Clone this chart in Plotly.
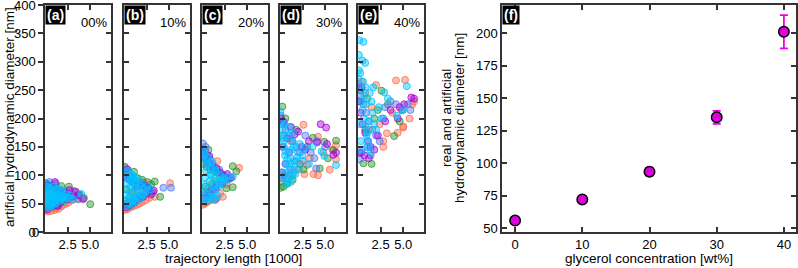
import plotly.graph_objects as go

W, H = 798, 268

# ---------------- data ----------------
PANEL_LABELS = ["(a)", "(b)", "(c)", "(d)", "(e)"]
PANEL_PCT = ["00%", "10%", "20%", "30%", "40%"]
COLORS = [(250, 110, 80), (40, 150, 40), (80, 120, 240), (170, 0, 220), (0, 195, 255)]
Y_TICKS = [0, 50, 100, 150, 200, 250, 300, 350, 400]
X_TICKS = [2.5, 5.0]

# panel a (00%)
a_salmon_x = [0.1,0.3,0.5,0.7,0.9,1.1,1.3,1.5,1.8,2.0,2.3,2.6,3.0,3.2,0.2,0.6,1.0,1.4,0.4,2.8,3.6,0.8]
a_salmon_y = [38,36,40,37,42,39,44,41,45,48,50,52,56,60,55,50,47,55,70,62,58,78]
a_green_x = [0.2,0.5,0.8,1.2,1.5,1.8,2.2,2.65,3.2,5.0,0.3,1.0,1.6,2.4,3.8,0.6,1.3,2.0,4.3]
a_green_y = [84,80,82,78,75,81,70,80,72,49,60,65,58,62,66,50,48,55,60]
a_blue_x = [0.1,0.4,0.7,1.0,1.3,1.6,2.0,2.4,2.8,0.2,0.9,1.5,2.1,3.3,3.7,0.5,1.2]
a_blue_y = [75,70,66,62,58,55,60,65,68,45,50,48,72,64,58,88,85]
a_purple_x = [0.1,0.3,0.6,0.9,1.2,1.5,1.9,2.3,2.7,3.0,3.4,4.2,0.4,0.8,1.4,1.7,2.5,3.7,0.2,1.1]
a_purple_y = [86,82,78,76,72,70,68,66,74,62,71,58,42,45,46,52,57,65,40,88]
a_cyan_x = [0.05,0.1,0.2,0.3,0.4,0.5,0.6,0.7,0.8,0.9,1.0,1.1,1.2,1.3,1.4,1.5,1.7,1.9,2.1,2.3,2.5,2.8,3.1,4.0,
            0.15,0.35,0.55,0.75,0.95,1.15,1.35,1.6,1.8,2.0,2.2,0.25,0.45,0.65,0.85]
a_cyan_y = [50,60,70,55,65,75,48,58,68,52,62,72,56,66,60,64,58,70,62,66,60,64,58,67,
            80,45,78,46,80,50,76,54,74,60,55,85,42,60,64]

# panel b (10%)
b_salmon_x = [0.1,0.3,0.5,0.8,1.1,1.4,1.7,2.0,2.4,2.8,3.4,5.1,0.2,0.6,1.0,1.5,3.0,2.2,0.4]
b_salmon_y = [39,40,42,44,46,48,50,53,56,60,62,86,55,60,70,78,70,88,95]
b_green_x = [0.1,0.4,1.1,0.7,1.5,2.0,2.6,3.4,4.0,3.0,0.3,0.9,1.8,2.3,0.5]
b_green_y = [115,108,106,98,95,92,88,89,62,84,75,70,65,80,50]
b_blue_x = [0.1,0.3,0.6,0.9,1.2,1.6,2.0,2.4,2.8,4.36,5.2,0.2,0.8,1.4,1.9,0.5,3.2]
b_blue_y = [112,105,100,95,90,86,82,78,74,78,78,50,55,60,65,45,70]
b_purple_x = [0.1,0.3,0.6,0.9,1.2,1.5,1.9,2.3,2.7,3.3,0.2,0.7,1.1,1.6,2.1,0.4,2.5,3.0]
b_purple_y = [102,96,92,88,84,80,86,82,78,73,44,48,52,58,62,110,68,66]
b_cyan_x = [0.05,0.15,0.25,0.35,0.45,0.55,0.65,0.75,0.85,0.95,1.05,1.15,1.25,1.35,1.45,1.6,1.8,2.0,2.2,2.4,2.6,2.9,
            0.1,0.3,0.5,0.7,0.9,1.1,1.3,1.5,1.7,1.9,2.1,0.2,0.4,0.6,0.8,1.0,1.2]
b_cyan_y = [55,65,75,85,95,60,70,80,90,100,58,68,78,88,62,72,82,66,76,70,80,75,
            105,98,52,92,48,96,54,94,58,86,64,45,108,50,102,60,84]

# panel c (20%)
c_salmon_x = [0.1,0.3,0.5,0.8,1.1,1.4,1.7,2.3,4.1,1.7,0.2,0.6,1.0,2.0,2.7,0.4]
c_salmon_y = [48,50,52,55,58,56,60,62,113,125,65,70,75,68,84,140]
c_green_x = [0.2,0.5,0.9,1.3,1.8,2.3,2.7,3.4,3.4,3.8,2.9,0.4,1.1,1.6,0.7]
c_green_y = [120,115,110,108,104,100,77,116,79,107,95,80,85,90,145]
c_blue_x = [0.1,0.3,0.6,0.9,1.2,1.5,1.9,2.4,2.8,0.2,0.7,1.2,1.6,2.1,3.1,0.4]
c_blue_y = [156,145,135,128,120,58,110,100,92,70,65,75,82,88,94,150]
c_purple_x = [0.1,0.4,0.8,0.8,1.2,1.6,2.0,2.4,2.8,3.2,0.3,0.7,1.1,1.5,2.2,0.5]
c_purple_y = [140,130,134,120,115,112,105,98,102,96,60,68,72,78,85,125]
c_cyan_x = [0.05,0.15,0.25,0.35,0.45,0.55,0.65,0.75,0.85,0.95,1.05,1.15,1.25,1.35,1.45,1.6,1.8,2.0,2.2,2.4,2.6,2.9,3.4,
            0.1,0.3,0.5,0.7,0.9,1.1,1.3,1.5,1.7,1.9,2.1,0.2,0.4,0.6,0.8,1.0]
c_cyan_y = [60,72,84,96,108,120,66,78,90,102,114,70,82,94,106,76,88,100,86,96,92,98,97,
            130,138,126,118,62,124,58,110,64,80,90,145,54,132,56,100]

# panel d (30%)
d_salmon_x = [2.6,4.2,3.3,2.7,3.7,4.2,5.5,6.2,6.2,0.2,0.6,1.0,1.5,2.0,3.0,4.8,5.8,0.4,1.2]
d_salmon_y = [189,168,130,102,102,100,110,153,128,90,95,100,105,110,118,140,145,170,160]
d_green_x = [0.25,0.4,3.63,4.9,6.2,5.9,4.4,0.1,0.8,1.4,2.2,3.0,5.3,0.6,1.8,2.6]
d_green_y = [221,80,166,159,161,144,112,78,85,92,120,150,130,200,180,110]
d_blue_x = [0.1,0.3,0.6,1.0,1.4,1.8,2.2,2.8,4.0,4.1,3.4,2.5,0.5,1.2,5.0,3.8,0.2,1.6]
d_blue_y = [205,190,180,170,160,150,140,170,112,160,140,125,100,110,150,130,95,125]
d_purple_x = [0.1,0.4,1.2,2.0,4.5,5.1,5.2,5.9,4.1,3.2,0.3,0.8,1.6,2.4,0.6,1.0,2.8,0.2,6.2]
d_purple_y = [200,194,185,177,190,184,155,136,158,160,150,165,172,150,120,140,145,105,140]
d_cyan_x = [0.05,0.15,0.25,0.35,0.45,0.55,0.65,0.75,0.85,0.95,1.05,1.15,1.25,1.35,1.45,1.6,1.8,2.0,2.2,2.5,2.8,3.2,4.9,6.2,
            0.1,0.3,0.5,0.7,0.9,1.1,1.3,1.5,1.7,1.9,2.1,0.2,0.4,0.6,0.8,1.0,1.2,1.4,3.6,4.6]
d_cyan_y = [212,195,180,165,150,135,120,105,90,100,115,130,145,160,175,110,125,140,155,135,148,120,134,118,
            95,105,190,85,170,98,120,150,102,132,112,170,160,142,128,185,88,100,150,142]

# panel e (40%)
e_salmon_x = [0.4,2.0,4.2,5.2,3.2,5.0,5.7,2.8,2.8,5.0,0.2,0.8,1.5,3.8,4.8,6.0,1.2,2.4,4.4,6.2]
e_salmon_y = [265,259,267,268,174,186,200,150,160,184,230,245,220,210,215,225,180,190,175,230]
e_green_x = [0.6,1.5,2.6,4.0,0.3,1.0,1.8,3.3,0.8,2.2,4.6]
e_green_y = [121,120,249,169,250,235,200,225,180,215,195]
e_blue_x = [0.1,0.3,0.6,0.9,1.2,1.6,2.0,2.4,3.0,3.6,4.2,4.9,5.5,0.4,1.0,1.4,2.8,0.2,5.8]
e_blue_y = [260,240,225,210,195,180,170,160,220,230,225,215,225,140,150,135,200,128,215]
e_purple_x = [0.1,0.3,0.5,0.8,1.1,1.4,1.8,4.6,5.9,6.2,3.6,4.4,0.2,0.7,1.2,2.2,3.0,0.4,5.1]
e_purple_y = [230,210,190,175,160,150,145,220,237,235,215,200,140,135,130,170,195,255,225]
e_cyan_x = [0.15,0.6,0.1,0.5,0.8,0.1,1.7,5.4,2.9,0.05,0.2,0.35,0.5,0.65,0.8,0.95,1.1,1.25,1.4,1.6,1.8,2.0,2.3,2.6,3.3,4.3,5.0,
            0.3,0.45,0.7,0.9,1.2,1.5,0.25,0.55,0.85,1.0,1.3,0.15]
e_cyan_y = [338,335,312,302,298,285,255,257,246,270,250,230,215,200,185,170,160,150,140,210,190,180,220,200,235,205,215,
            160,145,240,225,195,230,280,265,255,175,245,190]

# panel f
glycerol = [0, 10, 20, 30, 40]
diameter = [55.7, 72, 93.4, 135.3, 201.2]
diameter_err = [1.0, 2.0, 3.0, 5.0, 12.8]

PANELS = [
    [(a_salmon_x, a_salmon_y), (a_green_x, a_green_y), (a_blue_x, a_blue_y), (a_purple_x, a_purple_y), (a_cyan_x, a_cyan_y)],
    [(b_salmon_x, b_salmon_y), (b_green_x, b_green_y), (b_blue_x, b_blue_y), (b_purple_x, b_purple_y), (b_cyan_x, b_cyan_y)],
    [(c_salmon_x, c_salmon_y), (c_green_x, c_green_y), (c_blue_x, c_blue_y), (c_purple_x, c_purple_y), (c_cyan_x, c_cyan_y)],
    [(d_salmon_x, d_salmon_y), (d_green_x, d_green_y), (d_blue_x, d_blue_y), (d_purple_x, d_purple_y), (d_cyan_x, d_cyan_y)],
    [(e_salmon_x, e_salmon_y), (e_green_x, e_green_y), (e_blue_x, e_blue_y), (e_purple_x, e_purple_y), (e_cyan_x, e_cyan_y)],
]

# ---------------- layout helpers ----------------
def px(x):
    return x / W

def py(y):
    return 1 - y / H

FONT = "Liberation Sans, Arial, sans-serif"
AXC = "#333333"
PLOT_TOP, PLOT_BOT = 5, 232
LEFTS = [45, 124, 202, 280, 358]
PW = 66
TFS = 13.5  # axis title font size
Y_RANGE = [0, 400]

fig = go.Figure()
layout = dict(
    width=W, height=H, autosize=False,
    margin=dict(l=0, r=0, t=0, b=0, pad=0, autoexpand=False),
    paper_bgcolor="white", plot_bgcolor="white", showlegend=False,
    font=dict(family=FONT, size=13, color="black"),
)
annotations = []

for i, series in enumerate(PANELS):
    n = i + 1
    xa = "x" if n == 1 else f"x{n}"
    ya = "y" if n == 1 else f"y{n}"
    for (xs, ys), (r, g, b) in zip(series, COLORS):
        fig.add_trace(go.Scatter(
            x=xs, y=ys, mode="markers", xaxis=xa, yaxis=ya, hoverinfo="skip",
            marker=dict(size=7, color=f"rgba({r},{g},{b},0.45)",
                        line=dict(color=f"rgba({r},{g},{b},0.75)", width=1)),
        ))
    key_x = "xaxis" if n == 1 else f"xaxis{n}"
    key_y = "yaxis" if n == 1 else f"yaxis{n}"
    layout[key_x] = dict(
        domain=[px(LEFTS[i]), px(LEFTS[i] + PW)], anchor=ya, range=[0, 7.3],
        tickvals=X_TICKS, ticktext=[f"{v:.1f}" for v in X_TICKS], ticks="inside", ticklen=5, tickwidth=1.5,
        tickcolor=AXC, showline=True, linecolor=AXC, linewidth=1.5, mirror="ticks",
        showgrid=False, zeroline=False, tickfont=dict(size=13, family=FONT),
        ticklabeloverflow="allow", automargin=False,
    )
    layout[key_y] = dict(
        domain=[py(PLOT_BOT), py(PLOT_TOP)], anchor=xa, range=Y_RANGE,
        tickvals=Y_TICKS, ticks="outside" if n == 1 else "inside",
        ticklen=5, tickwidth=1.5, tickcolor=AXC, showline=True, linecolor=AXC, linewidth=1.5,
        mirror=True if n == 1 else "ticks", showgrid=False, zeroline=False,
        showticklabels=(n == 1), tickfont=dict(size=13, family=FONT),
        ticklabeloverflow="allow", automargin=False,
    )
    # panel tag
    annotations.append(dict(
        xref="paper", yref="paper", x=px(LEFTS[i]), y=py(PLOT_TOP), xanchor="left", yanchor="top",
        text=f"<b>{PANEL_LABELS[i]}</b>", showarrow=False, bgcolor="black", borderpad=1,
        font=dict(color="white", size=14, family=FONT),
    ))
    annotations.append(dict(
        xref="paper", yref="paper", x=px(LEFTS[i] + PW - 2), y=py(22), xanchor="right", yanchor="middle",
        text=PANEL_PCT[i], showarrow=False, font=dict(color="black", size=13, family=FONT),
    ))

# the bottom "0" label of panel a (plotly suppresses it at the axis corner)
annotations.append(dict(
    xref="paper", yref="y", x=px(40.5), y=Y_TICKS[0], xanchor="right", yanchor="middle",
    text=str(Y_TICKS[0]), showarrow=False, font=dict(size=13, family=FONT, color="black"),
))

# right-side inside ticks for panel a
fig.add_trace(go.Scatter(x=[], y=[], xaxis="x", yaxis="y7", hoverinfo="skip"))
layout["yaxis7"] = dict(
    overlaying="y", side="right", anchor="x", range=Y_RANGE, tickvals=Y_TICKS,
    ticks="inside", ticklen=5, tickwidth=1.5, tickcolor=AXC, showticklabels=False,
    showline=False, showgrid=False, zeroline=False, automargin=False,
)

# panel f
fig.add_trace(go.Scatter(
    x=glycerol, y=diameter, mode="markers", xaxis="x6", yaxis="y6", hoverinfo="skip",
    marker=dict(size=10.5, color="#DD00DD", line=dict(color="black", width=1.5)),
    error_y=dict(type="data", array=diameter_err, visible=True, color="#EE00EE", thickness=1.8, width=4),
))
F_L, F_R = 502, 796
layout["xaxis6"] = dict(
    domain=[px(F_L), px(F_R)], anchor="y6", range=[-1.95, 41.8],
    tickvals=[0, 10, 20, 30, 40], ticks="inside", ticklen=5, tickwidth=1.5, tickcolor=AXC,
    showline=True, linecolor=AXC, linewidth=1.5, mirror="ticks", showgrid=False, zeroline=False,
    tickfont=dict(size=13, family=FONT), ticklabeloverflow="allow", automargin=False,
)
layout["yaxis6"] = dict(
    domain=[py(PLOT_BOT), py(PLOT_TOP)], anchor="x6", range=[46.9, 221.8],
    tickvals=[50, 75, 100, 125, 150, 175, 200], ticks="inside", ticklen=5, tickwidth=1.5, tickcolor=AXC,
    showline=True, linecolor=AXC, linewidth=1.5, mirror="ticks", showgrid=False, zeroline=False,
    tickfont=dict(size=13, family=FONT), ticklabeloverflow="allow", automargin=False,
)
annotations.append(dict(
    xref="paper", yref="paper", x=px(F_L), y=py(PLOT_TOP), xanchor="left", yanchor="top",
    text="<b>(f)</b>", showarrow=False, bgcolor="black", borderpad=1,
    font=dict(color="white", size=14, family=FONT),
))

# axis titles
annotations += [
    dict(xref="paper", yref="paper", x=px(9), y=py(117), xanchor="center", yanchor="middle",
         text="artificial hydrodynamic diameter [nm]", textangle=-90, showarrow=False,
         font=dict(size=TFS, family=FONT)),
    dict(xref="paper", yref="paper", x=px(233), y=py(258), xanchor="center", yanchor="middle",
         text="trajectory length [1000]", showarrow=False, font=dict(size=TFS, family=FONT)),
    dict(xref="paper", yref="paper", x=px(649), y=py(258), xanchor="center", yanchor="middle",
         text="glycerol concentration [wt%]", showarrow=False, font=dict(size=TFS, family=FONT)),
    dict(xref="paper", yref="paper", x=px(446), y=py(118), xanchor="center", yanchor="middle",
         text="real and artificial", textangle=-90, showarrow=False, font=dict(size=TFS, family=FONT)),
    dict(xref="paper", yref="paper", x=px(459), y=py(118), xanchor="center", yanchor="middle",
         text="hydrodynamic diameter [nm]", textangle=-90, showarrow=False, font=dict(size=TFS, family=FONT)),
]
layout["annotations"] = annotations
fig.update_layout(**layout)
fig.write_html("out.html")
